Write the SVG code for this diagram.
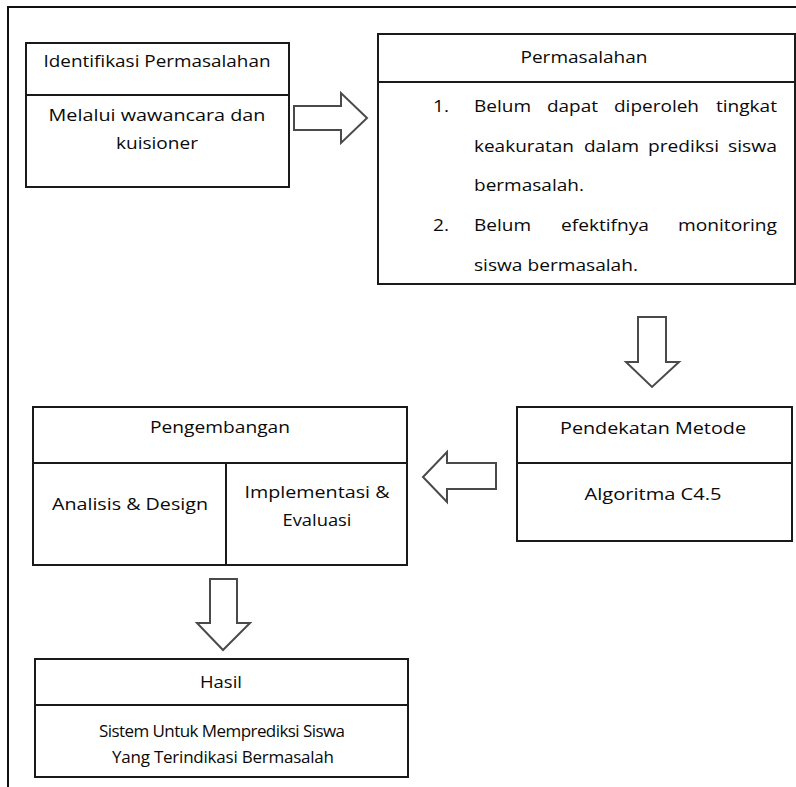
<svg xmlns="http://www.w3.org/2000/svg" width="796" height="787" viewBox="0 0 796 787">
  <style>
    .box { fill: #ffffff; stroke: #1a1a1a; stroke-width: 2; }
    .div { stroke: #1a1a1a; stroke-width: 2; fill: none; }
    .frame { stroke: #111111; stroke-width: 2; fill: none; }
    .arrow { fill: #ffffff; stroke: #4a4a4a; stroke-width: 2; stroke-linejoin: miter; }
    text { font-family: "Open Sans", "Liberation Sans", sans-serif; font-size: 17px; fill: #0a0a0a; }
    .c { text-anchor: middle; }
  </style>
  <rect x="0" y="0" width="796" height="787" fill="#ffffff"/>
  <g id="frame">
    <path class="frame" d="M8,787 L8,7 L796,7"/>
  </g>

  <g id="connectors">
    <polygon class="arrow" points="294,106 341,106 341,93 367,118 341,143 341,130 294,130"/>
    <polygon class="arrow" points="638,317 666,317 666,362 679,362 652,387 626,362 638,362"/>
    <polygon class="arrow" points="496,463 447,463 447,452 423,477 447,502 447,489 496,489"/>
    <polygon class="arrow" points="210,579 237,579 237,623 250,623 223,650 197,623 210,623"/>
  </g>

  <g id="identifikasi">
    <rect class="box" x="26" y="43" width="263" height="144"/>
    <line class="div" x1="26" y1="95" x2="289" y2="95"/>
    <text class="c" x="157" y="67" textLength="227" lengthAdjust="spacingAndGlyphs">Identifikasi Permasalahan</text>
    <text class="c" x="157" y="121" textLength="217" lengthAdjust="spacingAndGlyphs">Melalui wawancara dan</text>
    <text class="c" x="157" y="149" textLength="82" lengthAdjust="spacingAndGlyphs">kuisioner</text>
  </g>

  <g id="permasalahan">
    <rect class="box" x="378" y="34" width="417" height="250"/>
    <line class="div" x1="378" y1="82" x2="795" y2="82"/>
    <text class="c" x="584" y="63" textLength="127" lengthAdjust="spacingAndGlyphs">Permasalahan</text>
    <text x="433" y="112" textLength="16" lengthAdjust="spacingAndGlyphs">1.</text>
    <text y="112"><tspan x="474" textLength="57" lengthAdjust="spacingAndGlyphs">Belum</tspan><tspan x="547" textLength="51" lengthAdjust="spacingAndGlyphs">dapat</tspan><tspan x="614" textLength="85" lengthAdjust="spacingAndGlyphs">diperoleh</tspan><tspan x="716" textLength="61" lengthAdjust="spacingAndGlyphs">tingkat</tspan></text>
    <text y="152"><tspan x="474" textLength="100" lengthAdjust="spacingAndGlyphs">keakuratan</tspan><tspan x="584" textLength="55" lengthAdjust="spacingAndGlyphs">dalam</tspan><tspan x="648" textLength="71" lengthAdjust="spacingAndGlyphs">prediksi</tspan><tspan x="728" textLength="49" lengthAdjust="spacingAndGlyphs">siswa</tspan></text>
    <text x="474" y="191" textLength="110" lengthAdjust="spacingAndGlyphs">bermasalah.</text>
    <text x="433" y="231" textLength="16" lengthAdjust="spacingAndGlyphs">2.</text>
    <text y="231"><tspan x="474" textLength="57" lengthAdjust="spacingAndGlyphs">Belum</tspan><tspan x="561" textLength="88" lengthAdjust="spacingAndGlyphs">efektifnya</tspan><tspan x="678" textLength="99" lengthAdjust="spacingAndGlyphs">monitoring</tspan></text>
    <text x="474" y="271" textLength="164" lengthAdjust="spacingAndGlyphs">siswa bermasalah.</text>
  </g>

  <g id="pendekatan">
    <rect class="box" x="517" y="407" width="275" height="134"/>
    <line class="div" x1="517" y1="463" x2="792" y2="463"/>
    <text class="c" x="653" y="434" textLength="186" lengthAdjust="spacingAndGlyphs">Pendekatan Metode</text>
    <text class="c" x="653" y="500" textLength="137" lengthAdjust="spacingAndGlyphs">Algoritma C4.5</text>
  </g>

  <g id="pengembangan">
    <rect class="box" x="33" y="407" width="374" height="158"/>
    <line class="div" x1="33" y1="463" x2="407" y2="463"/>
    <line class="div" x1="226" y1="463" x2="226" y2="565"/>
    <text class="c" x="220" y="433" textLength="140" lengthAdjust="spacingAndGlyphs">Pengembangan</text>
    <text class="c" x="130" y="510" textLength="156" lengthAdjust="spacingAndGlyphs">Analisis &amp; Design</text>
    <text class="c" x="317" y="498" textLength="145" lengthAdjust="spacingAndGlyphs">Implementasi &amp;</text>
    <text class="c" x="317" y="526" textLength="69" lengthAdjust="spacingAndGlyphs">Evaluasi</text>
  </g>

  <g id="hasil">
    <rect class="box" x="35" y="659" width="373" height="118"/>
    <line class="div" x1="35" y1="705" x2="408" y2="705"/>
    <text class="c" x="221" y="688" textLength="42" lengthAdjust="spacingAndGlyphs">Hasil</text>
    <text class="c" x="222" y="737" textLength="246" lengthAdjust="spacing">Sistem Untuk Memprediksi Siswa</text>
    <text class="c" x="223" y="763" textLength="222" lengthAdjust="spacing">Yang Terindikasi Bermasalah</text>
  </g>
</svg>
